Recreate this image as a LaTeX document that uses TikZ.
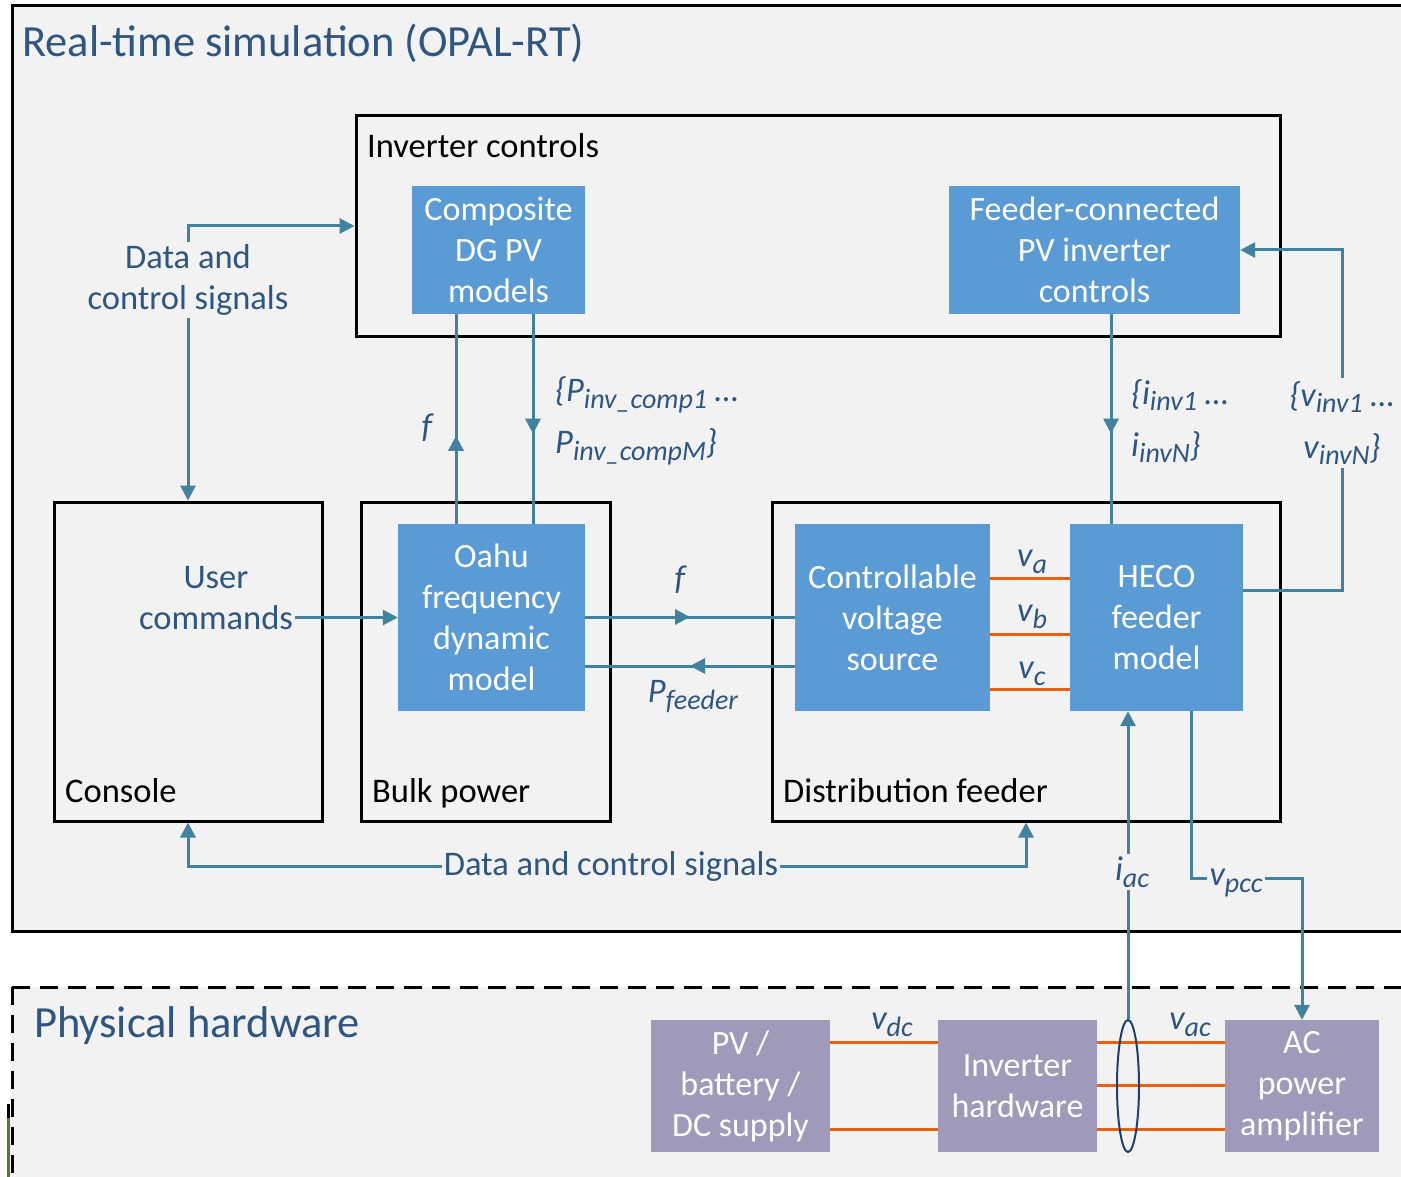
\documentclass[tikz,border=0pt]{standalone}
\usepackage{fontspec}
\setmainfont{Carlito}
\usetikzlibrary{arrows.meta,shapes.geometric,decorations.markings}
\definecolor{panel}{HTML}{F2F2F2}
\definecolor{simblue}{HTML}{5B9BD5}
\definecolor{hwpurple}{HTML}{9F99BA}
\definecolor{wire}{HTML}{41829F}
\definecolor{lbl}{HTML}{2F5680}
\definecolor{phase}{HTML}{E8600C}
\definecolor{bundle}{HTML}{1F3F6E}
\definecolor{edgegreen}{HTML}{4E7F30}
% lowered subscript in text italics
\newcommand\sbs[1]{\raisebox{-0.2em}{\fontsize{28pt}{28pt}\selectfont #1}}
\begin{document}
\begin{tikzpicture}[x=1pt,y=-1pt,
  frame/.style={draw=black, line width=3pt, rectangle, inner sep=0pt},
  simbox/.style={fill=simblue, text=white, rectangle, inner sep=0pt, align=center,
    font=\fontsize{34pt}{41pt}\selectfont},
  hwbox/.style={fill=hwpurple, text=white, rectangle, inner sep=0pt, align=center,
    font=\fontsize{34pt}{41pt}\selectfont},
  caption/.style={text=black, inner sep=0pt, anchor=base west, font=\fontsize{34.5pt}{41pt}\selectfont},
  lab/.style={text=lbl, inner sep=2pt, align=center, font=\fontsize{34.5pt}{41pt}\selectfont},
  sig/.style={text=lbl, inner sep=3pt, font=\fontsize{34.5pt}{52pt}\selectfont\itshape},
  conn/.style={draw=wire, line width=3pt},
  arr/.style={conn, -{Triangle[length=15pt,width=15pt]}},
  marr/.style={conn, postaction={decorate}, decoration={markings,
    mark=at position #1 with {\arrow{Triangle[length=15pt,width=15pt,color=wire]}}}},
  phs/.style={draw=phase, line width=3pt}]
\useasboundingbox (0,0) rectangle (1401,1177);
\clip (0,0) rectangle (1401,1177);

% panels
\draw[line width=3pt, fill=panel] (12,6) rectangle (1440,931);
\fill[panel] (12,987) rectangle (1440,1200);
\draw[line width=3pt, dash pattern=on 18pt off 10pt] (12,987) -- (1440,987);
\draw[line width=3pt, dash pattern=on 18pt off 10pt] (12,987) -- (12,1200);
\draw[line width=2.5pt] (8.5,1104) -- (8.5,1118);
\draw[line width=2.5pt, edgegreen] (8.5,1118) -- (8.5,1177);

\node[text=lbl, inner sep=0pt, anchor=base west, font=\fontsize{44.5pt}{44.5pt}\selectfont]
  (simtitle) at (22,57) {Real-time simulation (OPAL-RT)};
\node[text=lbl, inner sep=0pt, anchor=base west, font=\fontsize{44.5pt}{44.5pt}\selectfont]
  (hwtitle) at (34,1037) {Physical hardware};

% group frames
\node[frame, minimum width=924pt, minimum height=220pt] (ic) at (818,226) {};
\node[caption] (iccap) at (367,158) {Inverter controls};
\node[frame, minimum width=268pt, minimum height=319pt] (con) at (188,661.5) {};
\node[caption] (concap) at (65,802) {Console};
\node[frame, minimum width=249pt, minimum height=319pt] (bulk) at (485.5,661.5) {};
\node[caption] (bulkcap) at (372,802) {Bulk power};
\node[frame, minimum width=508pt, minimum height=319pt] (df) at (1026,661.5) {};
\node[caption] (dfcap) at (783,802) {Distribution feeder};

% model blocks
\node[simbox, minimum width=173pt, minimum height=128pt] (cdg) at (498.5,250) {Composite\\DG PV\\models};
\node[simbox, minimum width=291pt, minimum height=128pt] (fci) at (1094.5,250) {Feeder-connected\\PV inverter\\controls};
\node[simbox, minimum width=187pt, minimum height=187pt] (oahu) at (491.5,617.5) {Oahu\\frequency\\dynamic\\model};
\node[simbox, minimum width=195pt, minimum height=187pt] (cvs) at (892.5,617.5) {Controllable\\voltage\\source};
\node[simbox, minimum width=173pt, minimum height=187pt] (heco) at (1156.5,617.5) {HECO\\feeder\\model};

% hardware blocks
\node[hwbox, minimum width=179pt, minimum height=132pt] (pv) at (740.5,1086) {PV /\\battery /\\DC supply};
\node[hwbox, minimum width=159pt, minimum height=132pt] (invh) at (1017.5,1086) {Inverter\\hardware};
\node[hwbox, minimum width=154pt, minimum height=132pt] (acamp) at (1302,1086) {AC\\power\\amplifier};

% reference coordinates
\coordinate (fx) at (456,0);
\coordinate (px) at (533,0);
\coordinate (ix) at (1111,0);
\coordinate (vx) at (1342,0);
\coordinate (vpx) at (1191,0);
\coordinate (fy) at (0,617);
\coordinate (pfy) at (0,666);
\coordinate (vy) at (0,590);
\coordinate (vpy) at (0,878);
\coordinate (ya) at (0,578);
\coordinate (yb) at (0,634);
\coordinate (yc) at (0,689);
\coordinate (h1) at (0,1042);
\coordinate (h2) at (0,1085);
\coordinate (h3) at (0,1129);

% labels
\node[lab] (dcs1) at (188,280) {Data and\\control signals};
\node[lab] (uc) at (216,598) {User\\commands};
\node[lab] (dcs2) at (611,866) {Data and control signals};

% signal paths
\draw[arr] (dcs1.north) |- (ic.west);
\draw[arr] (dcs1.south) -- (con.north);
\draw[arr] (uc.east |- oahu.west) -- (oahu.west);
\draw[marr=0.42] (oahu.north -| fx) -- (cdg.south -| fx);
\draw[marr=0.57] (cdg.south -| px) -- (oahu.north -| px);
\draw[marr=0.5] (oahu.east |- fy) -- (cvs.west |- fy);
\draw[marr=0.5] (cvs.west |- pfy) -- (oahu.east |- pfy);
\draw[marr=0.57] (fci.south -| ix) -- (heco.north -| ix);
\draw[arr] (heco.east |- vy) -| (vx |- fci.east) -- (fci.east);
\draw[arr] (dcs2.west) -| (con.south);
\draw[arr] (dcs2.east) -| (df.south);

% three-phase voltages
\draw[phs] (cvs.east |- ya) -- (heco.west |- ya);
\draw[phs] (cvs.east |- yb) -- (heco.west |- yb);
\draw[phs] (cvs.east |- yc) -- (heco.west |- yc);
\draw[phs] (pv.east |- h1) -- (invh.west |- h1);
\draw[phs] (pv.east |- h3) -- (invh.west |- h3);
\draw[phs] (invh.east |- h1) -- (acamp.west |- h1);
\draw[phs] (invh.east |- h2) -- (acamp.west |- h2);
\draw[phs] (invh.east |- h3) -- (acamp.west |- h3);

% current sensing bundle
\node[ellipse, draw=bundle, line width=2pt, inner sep=0pt, minimum width=22pt, minimum height=132pt] (ell) at (1128,1086) {};
\draw[arr] (ell.north) -- (heco.south -| ell.north);
\draw[arr] (heco.south -| vpx) |- (acamp.north |- vpy) -- (acamp.north);

% signal names
\node[sig] (fup) at (427,428) {f};
\node[sig, anchor=west, align=left] (pinv) at (552,421) {\{P\sbs{inv\_comp1} …\\P\sbs{inv\_compM}\}};
\node[sig] (fright) at (680,580) {f};
\node[sig] (pfeed) at (693,697) {P\sbs{feeder}};
\node[sig, anchor=west, align=left] (iinv) at (1128,421) {\{i\sbs{inv1} …\\i\sbs{invN}\}};
\node[sig, fill=panel, align=center] (vinv) at (1342,423) {\{v\sbs{inv1} …\\v\sbs{invN}\}};
\node[sig] (va) at (1032,562) {v\sbs{a}};
\node[sig] (vb) at (1032,617) {v\sbs{b}};
\node[sig] (vc) at (1032,674) {v\sbs{c}};
\node[sig, fill=panel] (iac) at (1132,872) {i\sbs{ac}};
\node[sig, fill=panel] (vpcc) at (1236,883) {v\sbs{pcc}};
\node[sig] (vdc) at (892,1025) {v\sbs{dc}};
\node[sig] (vac) at (1190,1025) {v\sbs{ac}};
\end{tikzpicture}
\end{document}
